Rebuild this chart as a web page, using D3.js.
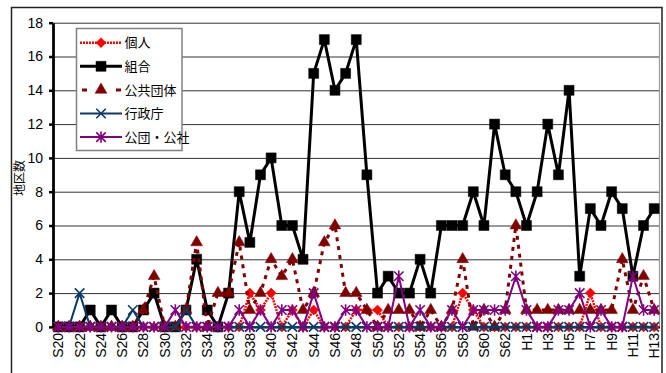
<!DOCTYPE html>
<html>
<head>
<meta charset="utf-8">
<script src="https://cdn.jsdelivr.net/npm/d3@7"></script>
<style>
  html, body { margin: 0; padding: 0; background: #fff; }
  svg { display: block; }
</style>
</head>
<body>
<svg id="chart" width="666" height="373"></svg>
<script>
// Categories: Showa 20–63, Heisei 1–13
const categories = [
  "S20","S21","S22","S23","S24","S25","S26","S27","S28","S29",
  "S30","S31","S32","S33","S34","S35","S36","S37","S38","S39",
  "S40","S41","S42","S43","S44","S45","S46","S47","S48","S49",
  "S50","S51","S52","S53","S54","S55","S56","S57","S58","S59",
  "S60","S61","S62","S63",
  "H1","H2","H3","H4","H5","H6","H7","H8","H9","H10","H11","H12","H13"
];

// Number of districts per implementing body
const kojin = [
  0,0,0,0,0,0,0,0,0,0,
  0,0,0,0,0,0,0,0,2,1,
  2,0,1,0,1,0,0,0,1,1,
  1,0,0,0,0,0,0,0,2,1,
  0,0,0,0,
  0,0,0,0,0,0,2,0,0,0,0,0,0
];
const kumiai = [
  0,0,0,1,0,1,0,0,1,2,
  0,0,1,4,1,0,2,8,5,9,
  10,6,6,4,15,17,14,15,17,9,
  2,3,2,2,4,2,6,6,6,8,
  6,12,9,8,
  6,8,12,9,14,3,7,6,8,7,3,6,7
];
const kokyodantai = [
  0,0,0,0,0,0,0,0,1,3,
  0,0,1,5,0,2,2,5,1,2,
  4,3,4,1,2,5,6,2,2,1,
  0,1,1,1,0,1,0,1,4,0,
  1,0,1,6,
  1,1,1,1,1,1,1,1,1,4,1,3,1
];
const gyoseicho = [
  0,0,2,0,0,0,0,1,0,0,
  0,0,1,0,0,0,0,0,0,0,
  0,0,0,0,0,0,0,0,0,0,
  0,0,0,0,0,0,0,0,0,0,
  0,0,0,0,
  0,0,0,0,0,0,0,0,0,0,0,0,0
];
const kodan = [
  0,0,0,0,0,0,0,0,0,0,
  0,1,0,0,0,0,0,1,0,1,
  0,1,1,0,2,0,0,1,1,0,
  0,0,3,0,1,0,0,1,0,1,
  1,1,1,3,
  1,0,0,1,1,2,0,1,0,0,3,1,1
];

const seriesNames = ["個人", "組合", "公共団体", "行政庁", "公団・公社"];
const yTicks = [0, 2, 4, 6, 8, 10, 12, 14, 16, 18];
const yTitle = "地区数";

// Marker shapes
const symDiamond = { draw(ctx, size) { const r = Math.sqrt(size) * 0.7071;
  ctx.moveTo(0, -r); ctx.lineTo(r, 0); ctx.lineTo(0, r); ctx.lineTo(-r, 0); ctx.closePath(); } };
const symCross = { draw(ctx, size) { const r = Math.sqrt(size) / 2;
  ctx.moveTo(-r, -r); ctx.lineTo(r, r); ctx.moveTo(r, -r); ctx.lineTo(-r, r); } };
const symStar = { draw(ctx, size) { const r = Math.sqrt(size) / 2;
  ctx.moveTo(-r, -r); ctx.lineTo(r, r); ctx.moveTo(r, -r); ctx.lineTo(-r, r);
  ctx.moveTo(0, -r * 1.2); ctx.lineTo(0, r * 1.2); } };

const series = [
  { name: seriesNames[0], values: kojin,       color: "#ff0000", width: 2.5, dash: "2,1",   symbol: symDiamond,        size: 50,  filled: true },
  { name: seriesNames[1], values: kumiai,      color: "#000000", width: 3,   dash: null,    symbol: d3.symbolSquare,   size: 100, filled: true },
  { name: seriesNames[2], values: kokyodantai, color: "#800000", width: 3,   dash: "4,5",   symbol: d3.symbolTriangle, size: 60,  filled: true },
  { name: seriesNames[3], values: gyoseicho,   color: "#0b3a68", width: 2,   dash: null,    symbol: symCross,          size: 90,  filled: false },
  { name: seriesNames[4], values: kodan,       color: "#800080", width: 2,   dash: null,    symbol: symStar,           size: 90,  filled: false }
];

const svg = d3.select("#chart");
const plot = { left: 53, right: 659.5, top: 22.7, bottom: 326.9 };

// Outer chart frame
svg.append("rect")
  .attr("x", 11.5).attr("y", 7.5).attr("width", 650.5).attr("height", 380)
  .attr("fill", "#fff").attr("stroke", "#222").attr("stroke-width", 1.5);

const x = d3.scaleBand().domain(categories).range([plot.left, plot.right]).padding(0);
const cx = c => x(c) + x.bandwidth() / 2;
const y = d3.scaleLinear().domain([0, 18]).range([plot.bottom, plot.top]);

// Horizontal gridlines
svg.append("g")
  .attr("transform", `translate(${plot.left},0)`)
  .call(d3.axisLeft(y).tickValues(yTicks.slice(1)).tickSize(-(plot.right - plot.left)).tickFormat(""))
  .call(g => g.select(".domain").remove())
  .call(g => g.selectAll("line").attr("stroke", "#333").attr("stroke-width", 1));

// Right edge of the plot area
svg.append("line")
  .attr("x1", plot.right).attr("x2", plot.right)
  .attr("y1", plot.top).attr("y2", plot.bottom)
  .attr("stroke", "#999").attr("stroke-width", 1.2);

// Y axis
svg.append("g")
  .attr("transform", `translate(${plot.left},0)`)
  .call(d3.axisLeft(y).tickValues(yTicks).tickSize(4).tickSizeOuter(0).tickPadding(6))
  .call(g => g.select(".domain").attr("stroke", "#000").attr("stroke-width", 2.8))
  .call(g => g.selectAll(".tick line").attr("stroke", "#000").attr("stroke-width", 2.5))
  .call(g => g.selectAll("text")
    .attr("font-family", "'Liberation Sans', Arial, sans-serif")
    .attr("font-size", 14).attr("fill", "#000"));

// X axis (every other category labelled, text rotated)
svg.append("g")
  .attr("transform", `translate(0,${plot.bottom})`)
  .call(d3.axisBottom(x).tickValues(categories.filter((c, i) => i % 2 === 0)).tickSize(0).tickSizeOuter(0))
  .call(g => g.select(".domain").attr("stroke", "#000").attr("stroke-width", 2))
  .call(g => g.selectAll("text")
    .attr("font-family", "'Liberation Sans', Arial, sans-serif")
    .attr("font-size", 14).attr("fill", "#000")
    .attr("transform", "rotate(-90)")
    .attr("text-anchor", "end")
    .attr("x", -6).attr("y", 0).attr("dy", "0.36em"));

// Y axis title
svg.append("text")
  .attr("transform", "translate(24,178) rotate(-90)")
  .attr("text-anchor", "middle")
  .attr("font-family", "'Noto Sans CJK JP', sans-serif")
  .attr("font-size", 12).attr("fill", "#000")
  .text(yTitle);

// Series lines and markers
const line = d3.line().x((d, i) => cx(categories[i])).y(d => y(d));
series.forEach(s => {
  const g = svg.append("g");
  g.append("path")
    .attr("d", line(s.values))
    .attr("fill", "none")
    .attr("stroke", s.color)
    .attr("stroke-width", s.width)
    .attr("stroke-dasharray", s.dash)
    .attr("stroke-linejoin", "round");
  const sym = d3.symbol().type(s.symbol).size(s.size);
  g.selectAll("path.m").data(s.values).join("path")
    .attr("class", "m")
    .attr("transform", (d, i) => `translate(${cx(categories[i])},${y(d)})`)
    .attr("d", sym)
    .attr("fill", s.filled ? s.color : "none")
    .attr("stroke", s.color)
    .attr("stroke-width", s.filled ? 0.5 : 1.6);
});

// Legend
const legend = svg.append("g");
legend.append("rect")
  .attr("x", 76.5).attr("y", 28.5).attr("width", 105.5).attr("height", 122)
  .attr("fill", "#fff").attr("stroke", "#808080").attr("stroke-width", 1.5);
series.forEach((s, i) => {
  const ly = 42.7 + i * 23.6;
  const row = legend.append("g").attr("transform", `translate(0,${ly})`);
  row.append("line")
    .attr("x1", 80).attr("x2", 122).attr("y1", 0).attr("y2", 0)
    .attr("stroke", s.color).attr("stroke-width", s.width)
    .attr("stroke-dasharray", s.dash ? (s.name === seriesNames[2] ? "5,29" : s.dash) : null)
    .attr("stroke-dashoffset", s.name === seriesNames[2] ? -2 : 0);
  row.append("path")
    .attr("transform", "translate(101,0)")
    .attr("d", d3.symbol().type(s.symbol).size(s.size)())
    .attr("fill", s.filled ? s.color : "none")
    .attr("stroke", s.color)
    .attr("stroke-width", s.filled ? 0.5 : 1.6);
  row.append("text")
    .attr("x", 124.5).attr("y", 0).attr("dy", "0.36em")
    .attr("font-family", "'Noto Sans CJK JP', sans-serif")
    .attr("font-size", 13).attr("fill", "#000")
    .text(s.name);
});
</script>
</body>
</html>
